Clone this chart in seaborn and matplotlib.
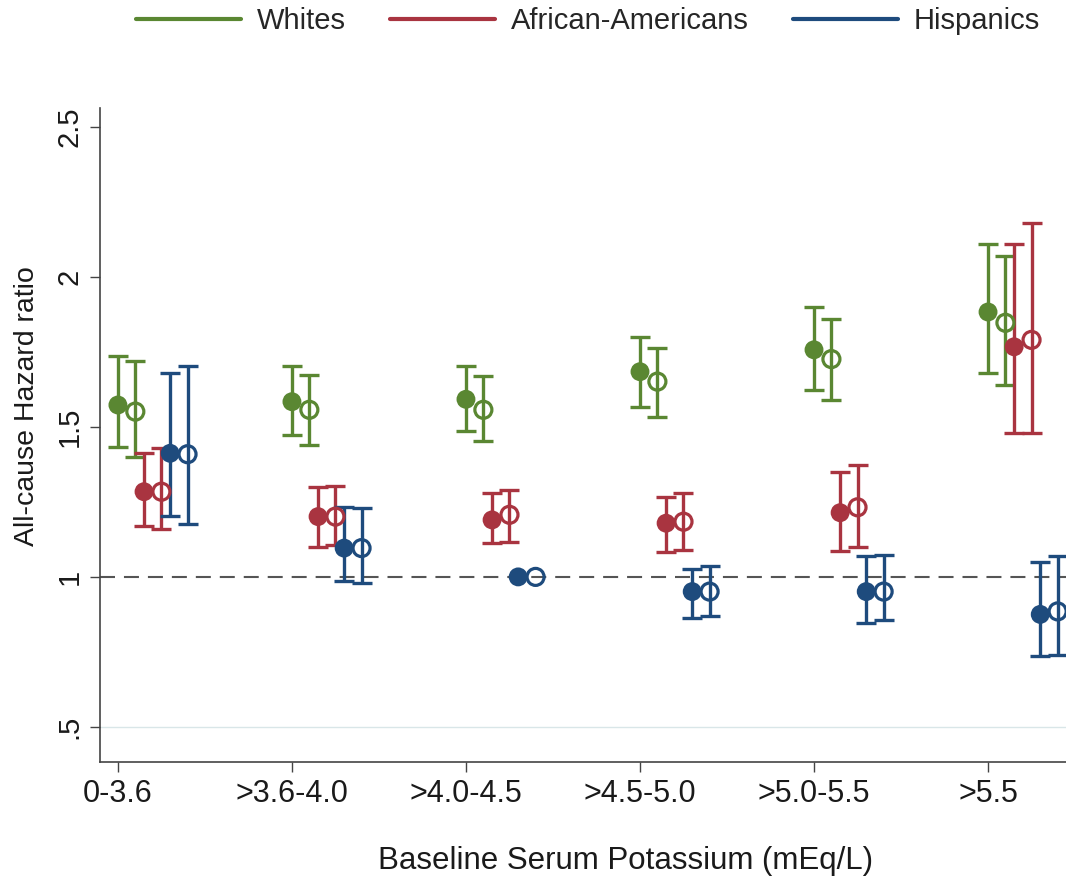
import numpy as np
import pandas as pd
import matplotlib
matplotlib.use("Agg")
import matplotlib.pyplot as plt
import seaborn as sns
from matplotlib.lines import Line2D

# ---------------- data ----------------
categories = ['0-3.6', '>3.6-4.0', '>4.0-4.5', '>4.5-5.0', '>5.0-5.5', '>5.5']
groups = ['Whites', 'African-Americans', 'Hispanics']

whites_m1 = [1.573, 1.584, 1.592, 1.684, 1.757, 1.883]
whites_m1_lo = [1.432, 1.473, 1.488, 1.566, 1.623, 1.680]
whites_m1_hi = [1.737, 1.703, 1.703, 1.801, 1.901, 2.110]
whites_m2 = [1.551, 1.557, 1.557, 1.651, 1.726, 1.847]
whites_m2_lo = [1.401, 1.440, 1.454, 1.532, 1.588, 1.640]
whites_m2_hi = [1.721, 1.673, 1.671, 1.762, 1.859, 2.070]

aa_m1 = [1.284, 1.201, 1.190, 1.179, 1.214, 1.767]
aa_m1_lo = [1.170, 1.101, 1.114, 1.084, 1.088, 1.480]
aa_m1_hi = [1.412, 1.298, 1.279, 1.268, 1.351, 2.110]
aa_m2 = [1.284, 1.201, 1.207, 1.184, 1.232, 1.790]
aa_m2_lo = [1.159, 1.107, 1.118, 1.090, 1.101, 1.480]
aa_m2_hi = [1.429, 1.303, 1.290, 1.281, 1.373, 2.180]

hisp_m1 = [1.412, 1.096, 1.000, 0.951, 0.951, 0.875]
hisp_m1_lo = [1.203, 0.988, 1.000, 0.862, 0.848, 0.735]
hisp_m1_hi = [1.679, 1.234, 1.000, 1.026, 1.070, 1.050]
hisp_m2 = [1.409, 1.096, 1.000, 0.951, 0.951, 0.885]
hisp_m2_lo = [1.177, 0.981, 1.000, 0.870, 0.857, 0.740]
hisp_m2_hi = [1.703, 1.229, 1.000, 1.037, 1.073, 1.070]

yticks = [0.5, 1, 1.5, 2, 2.5]
ytick_labels = ['.5', '1', '1.5', '2', '2.5']

colors = {'Whites': '#5a8732', 'African-Americans': '#a93440', 'Hispanics': '#1e4b7d'}

# offsets within each category (in category units)
offsets = {('Whites', 'm1'): 0.0, ('Whites', 'm2'): 0.10,
           ('African-Americans', 'm1'): 0.15, ('African-Americans', 'm2'): 0.25,
           ('Hispanics', 'm1'): 0.30, ('Hispanics', 'm2'): 0.40}

series = {
    ('Whites', 'm1'): (whites_m1, whites_m1_lo, whites_m1_hi),
    ('Whites', 'm2'): (whites_m2, whites_m2_lo, whites_m2_hi),
    ('African-Americans', 'm1'): (aa_m1, aa_m1_lo, aa_m1_hi),
    ('African-Americans', 'm2'): (aa_m2, aa_m2_lo, aa_m2_hi),
    ('Hispanics', 'm1'): (hisp_m1, hisp_m1_lo, hisp_m1_hi),
    ('Hispanics', 'm2'): (hisp_m2, hisp_m2_lo, hisp_m2_hi),
}

rows = []
for (g, m), (v, lo, hi) in series.items():
    for i, c in enumerate(categories):
        rows.append(dict(group=g, model=m, cat=c, x=i + offsets[(g, m)],
                         hr=v[i], lo=lo[i], hi=hi[i]))
df = pd.DataFrame(rows)

# ---------------- plot ----------------
sns.set_theme(style='ticks')
plt.rcParams['font.family'] = ['Liberation Sans', 'DejaVu Sans']

fig = plt.figure(figsize=(10.66, 8.81), dpi=100)
ax = fig.add_axes([100 / 1066, 119 / 881, 966 / 1066, 654 / 881])

# reference lines
ax.axhline(0.5, color='#d9e6e8', lw=1.0, zorder=0)
ax.axhline(1.0, color='#555555', lw=1.5, dashes=(7.2, 4.3), zorder=1)

for (g, m), sub in df.groupby(['group', 'model'], sort=False):
    col = colors[g]
    s = sub[sub['hi'] > sub['lo']]
    ax.errorbar(s['x'], s['hr'], yerr=[s['hr'] - s['lo'], s['hi'] - s['hr']],
                fmt='none', ecolor=col, elinewidth=2.4, capsize=7.5, capthick=2.4,
                zorder=2)

filled = df[df['model'] == 'm1']
opened = df[df['model'] == 'm2']
sns.scatterplot(data=filled, x='x', y='hr', hue='group', palette=colors,
                s=185, marker='o', linewidth=0, legend=False, ax=ax, zorder=3)
for g in groups:
    sub = opened[opened['group'] == g]
    sns.scatterplot(data=sub, x='x', y='hr', s=150, marker='o',
                    facecolors='none', edgecolor=colors[g], linewidth=2.3,
                    legend=False, ax=ax, zorder=3)

ax.set_xlim(-0.103, 5.448)
ax.set_ylim(0.383, 2.563)
ax.set_xticks(range(len(categories)))
ax.set_xticklabels(categories)
ax.set_yticks(yticks)
ax.set_yticklabels(ytick_labels)

for sp in ['top', 'right']:
    ax.spines[sp].set_visible(False)
for sp in ['left', 'bottom']:
    ax.spines[sp].set_color('#444444')
    ax.spines[sp].set_linewidth(1.2)

ax.tick_params(axis='both', length=7, width=1.0, color='#444444',
               labelcolor='#1a1a1a')
ax.tick_params(axis='y', labelrotation=90, pad=5, labelsize=21)
ax.tick_params(axis='x', pad=5, labelsize=22)
for lab in ax.get_yticklabels():
    lab.set_va('center')

ax.set_xlabel('Baseline Serum Potassium (mEq/L)', fontsize=22.5, color='#1a1a1a')
ax.set_ylabel('All-cause Hazard ratio', fontsize=20.5, color='#1a1a1a')
ax.xaxis.set_label_coords(0.5445, -0.128)
ax.yaxis.set_label_coords(-0.062, 0.544)

handles = [Line2D([0], [0], color=colors[g], lw=3) for g in groups]
fig.legend(handles, groups, loc='center', bbox_to_anchor=(588 / 1066, 1 - 21 / 881),
           ncol=3, frameon=False, fontsize=21, handlelength=3.6,
           handletextpad=0.55, columnspacing=1.5)

fig.savefig('out.png', dpi=100)
